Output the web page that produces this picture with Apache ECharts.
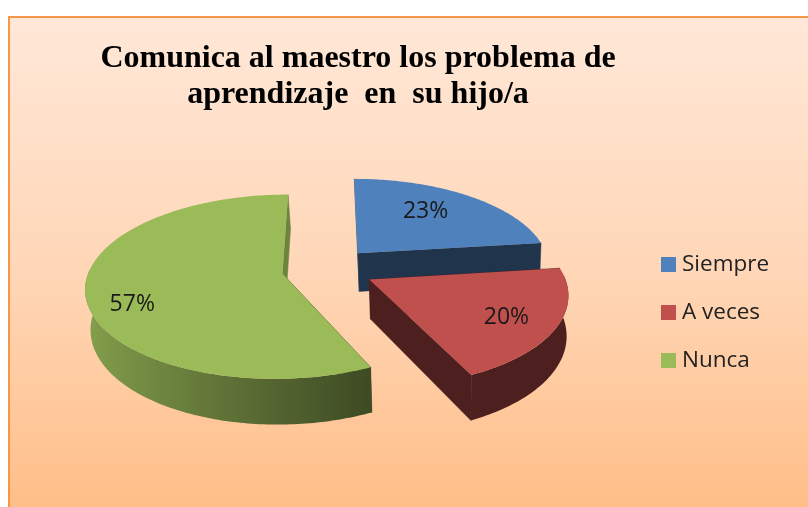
<!DOCTYPE html>
<html>
<head>
<meta charset="utf-8">
<style>
  html, body { margin: 0; padding: 0; background: #fff; }
  #main { width: 808px; height: 507px; }
</style>
<script src="https://cdn.jsdelivr.net/npm/echarts@6/dist/echarts.min.js"></script>
</head>
<body>
<div id="main"></div>
<script>
var categories = ['Siempre', 'A veces', 'Nunca'];
var values = [23, 20, 57];
var colors = ['#4F81BD', '#C0504D', '#9BBB59'];

// fake 3D pie: disk of radius 1 projected with a little perspective
var cx = 328, cy = 269;      // centre of the whole pie
var rx = 193, ry = 89;       // ellipse radii
var persp = 0.14;            // far side shrinks, near side grows
var explode = 0.24;          // slices pulled out from the centre
var depth = 39;              // wall height
var vanishX = 450, wallShrink = 0.985;
// label place per slice: distance from apex and angle shift from slice middle
var labelRho = [0.69, 0.75, 0.79];
var labelShift = [-6, 1, -10];

var total = values.reduce(function (a, b) { return a + b; }, 0);

function project(u, v, low) {
  var w = 1 - persp * v;
  var x = cx + rx * u / w;
  var y = cy + ry * v / w;
  if (low) {
    x = vanishX + (x - vanishX) * wallShrink;
    y += depth / w;
  }
  return [x, y];
}

function shade(hex, f) {
  var c = echarts.color.parse(hex);
  return 'rgb(' + Math.round(c[0] * f) + ',' + Math.round(c[1] * f) + ',' + Math.round(c[2] * f) + ')';
}

function makeRender(idx) {
  return function (params, api) {
    var before = values.slice(0, idx).reduce(function (a, b) { return a + b; }, 0);
    var a0 = before / total * 360;
    var a1 = a0 + api.value(0) / total * 360;
    var mid = (a0 + a1) / 2 * Math.PI / 180;
    var ox = explode * Math.sin(mid), oy = -explode * Math.cos(mid);
    var color = colors[idx];
    var children = [];

    function pt(deg, low) {
      var t = deg * Math.PI / 180;
      return project(ox + Math.sin(t), oy - Math.cos(t), low);
    }
    var apexTop = project(ox, oy, false), apexLow = project(ox, oy, true);

    // the two straight walls
    [a0, a1].forEach(function (deg) {
      var f = (deg === 0 || deg === 360) ? 0.7 : 0.4;
      var c = shade(color, f);
      children.push({
        type: 'polygon',
        shape: { points: [apexTop, pt(deg, false), pt(deg, true), apexLow] },
        style: { fill: c, stroke: c, lineWidth: 0.5 }
      });
    });

    // outer wall, only the part that faces us, lighter towards the left
    var n = Math.ceil(a1 - a0);
    var top = [apexTop], upper = [], lower = [], stops = [];
    for (var i = 0; i <= n; i++) {
      var d = a0 + (a1 - a0) * i / n;
      var p = pt(d, false);
      top.push(p);
      if (Math.cos(d * Math.PI / 180) < 0.05) {
        upper.push(p);
        lower.unshift(pt(d, true));
        var s = Math.sin(d * Math.PI / 180);
        var t = Math.max(0, Math.min(1, (0.42 - s) / 1.42));
        stops.push({ x: p[0], color: shade(color, 0.4 + 0.47 * t) });
      }
    }
    if (upper.length) {
      var xs = stops.map(function (q) { return q.x; });
      var xMin = Math.min.apply(null, xs), xMax = Math.max.apply(null, xs);
      var grad = stops.map(function (q) {
        return { offset: (q.x - xMin) / (xMax - xMin), color: q.color };
      }).sort(function (a, b) { return a.offset - b.offset; });
      children.push({
        type: 'polygon',
        shape: { points: upper.concat(lower) },
        style: { fill: new echarts.graphic.LinearGradient(xMin, 0, xMax, 0, grad, true) }
      });
    }
    children.push({ type: 'polygon', shape: { points: top }, style: { fill: color } });

    // percent label
    var la = ((a0 + a1) / 2 + labelShift[idx]) * Math.PI / 180;
    var lp = project(ox + labelRho[idx] * Math.sin(la), oy - labelRho[idx] * Math.cos(la), false);
    children.push({
      type: 'text',
      x: lp[0], y: lp[1] + 2,
      style: {
        text: api.value(0) + '%',
        fill: '#1a1a1a',
        font: '23px "Open Sans", sans-serif',
        align: 'center',
        verticalAlign: 'middle'
      }
    });
    return { type: 'group', children: children };
  };
}

var chart = echarts.init(document.getElementById('main'), null, { renderer: 'canvas' });

chart.setOption({
  animation: false,
  backgroundColor: '#fff',
  title: {
    text: 'Comunica al maestro los problema de\naprendizaje  en  su hijo/a',
    left: 353,
    top: 36,
    textAlign: 'center',
    textStyle: {
      fontFamily: '"Liberation Serif", serif',
      fontWeight: 'bold',
      fontSize: 32,
      lineHeight: 36,
      color: '#000'
    }
  },
  legend: {
    orient: 'vertical',
    left: 656,
    top: 248,
    icon: 'rect',
    itemWidth: 15,
    itemHeight: 15,
    itemGap: 25,
    selectedMode: false,
    data: categories,
    textStyle: { fontFamily: '"Open Sans", sans-serif', fontSize: 22.5, color: '#222', padding: [0, 0, 0, 1] }
  },
  graphic: [{
    type: 'rect',
    z: -10,
    silent: true,
    shape: { x: 9, y: 17, width: 830, height: 520 },
    style: {
      stroke: '#F79646',
      lineWidth: 2,
      fill: new echarts.graphic.LinearGradient(0, 0, 0, 1, [
        { offset: 0, color: '#FFE8D8' },
        { offset: 0.5, color: '#FFD6B6' },
        { offset: 1, color: '#FFBB82' }
      ])
    }
  }],
  series: categories.map(function (name, i) {
    return {
      name: name,
      type: 'custom',
      coordinateSystem: 'none',
      silent: true,
      itemStyle: { color: colors[i] },
      renderItem: makeRender(i),
      data: [[values[i]]]
    };
  })
});
</script>
</body>
</html>
